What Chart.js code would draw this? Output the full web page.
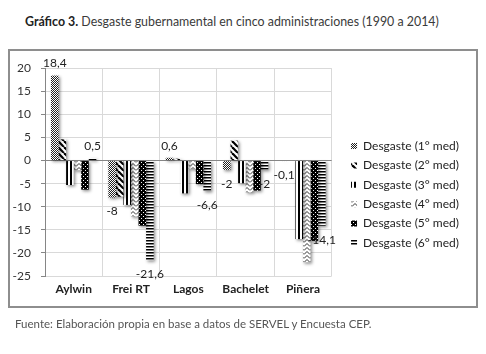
<!DOCTYPE html>
<html>
<head>
<meta charset="utf-8">
<script src="https://cdn.jsdelivr.net/npm/chart.js@4.4.1/dist/chart.umd.min.js"></script>
<style>
  html, body { margin: 0; padding: 0; background: #fff; }
  body { width: 486px; height: 354px; position: relative; overflow: hidden; font-family: Lato, "Open Sans", sans-serif; }
  #title { position: absolute; left: 25px; top: 14px; font-size: 12.4px; color: #3a3a3a; white-space: nowrap; }
  #title b { font-weight: 700; color: #222; }
  #frame { position: absolute; left: 8px; top: 49px; width: 466px; height: 255px; border: 2px solid #8e8e8e; }
  #c { position: absolute; left: 10px; top: 51px; }
  #foot { position: absolute; left: 15px; top: 317px; font-size: 11.5px; color: #555; white-space: nowrap; }
</style>
</head>
<body>
<div id="title"><b>Gráfico 3.</b> Desgaste gubernamental en cinco administraciones (1990 a 2014)</div>
<div id="frame"></div>
<canvas id="c" width="465" height="270"></canvas>
<div id="foot">Fuente: Elaboración propia en base a datos de SERVEL y Encuesta CEP.</div>
<script>
const categories = ['Aylwin', 'Frei RT', 'Lagos', 'Bachelet', 'Piñera'];
const seriesNames = ['Desgaste (1° med)', 'Desgaste (2° med)', 'Desgaste (3° med)', 'Desgaste (4° med)', 'Desgaste (5° med)', 'Desgaste (6° med)'];
const med1 = [18.4, -8, 0.6, -2, -0.1];
const med2 = [4.6, -7.8, 0.4, 4.3, 0];
const med3 = [-5.3, -9.6, -7.1, -4.9, -17];
const med4 = [-2.1, -12.1, -1.8, -6.9, -22];
const med5 = [-6.3, -14.1, -5.1, -6.5, -17.4];
const med6 = [0.5, -21.6, -6.6, -2, -14.1];
const yTicks = [20, 15, 10, 5, 0, -5, -10, -15, -20, -25];
const labeledSeries = [0, 5];

const CANVAS_H = 270;
const PLOT_BOTTOM = 225;

function tile(w, h, draw) {
  const cv = document.createElement('canvas');
  cv.width = w; cv.height = h;
  const g = cv.getContext('2d');
  draw(g, w, h);
  return document.getElementById('c').getContext('2d').createPattern(cv, 'repeat');
}
const patterns = [
  tile(2, 2, (g) => { g.fillStyle = '#fff'; g.fillRect(0,0,2,2); g.fillStyle = '#222'; g.fillRect(0,0,1,1); g.fillRect(1,1,1,1); }),
  tile(6, 6, (g) => { g.fillStyle = '#fff'; g.fillRect(0,0,6,6); g.strokeStyle = '#000'; g.lineWidth = 2.2;
    for (let k = -6; k <= 12; k += 6) { g.beginPath(); g.moveTo(k, 0); g.lineTo(k + 6, 6); g.stroke(); } }),
  tile(4, 4, (g) => { g.fillStyle = '#fff'; g.fillRect(0,0,4,4); g.fillStyle = '#000'; g.fillRect(0,0,2,4); }),
  tile(6, 4, (g) => { g.fillStyle = '#fff'; g.fillRect(0,0,6,4); g.strokeStyle = '#333'; g.lineWidth = 1;
    g.beginPath(); g.moveTo(0, 3.5); g.lineTo(3, 0.5); g.lineTo(6, 3.5); g.stroke(); }),
  tile(4, 4, (g) => { g.fillStyle = '#000'; g.fillRect(0,0,4,4); g.fillStyle = '#fff'; g.fillRect(1,1,1,1); g.fillRect(3,3,1,1); }),
  tile(4, 3, (g) => { g.fillStyle = '#fff'; g.fillRect(0,0,4,3); g.fillStyle = '#000'; g.fillRect(0,0,4,1.5); })
];
const values = [med1, med2, med3, med4, med5, med6];

const shadowPlugin = {
  id: 'shadow',
  beforeDatasetsDraw(chart) {
    const ctx = chart.ctx; ctx.save();
    ctx.shadowColor = 'rgba(0,0,0,0.45)'; ctx.shadowBlur = 3; ctx.shadowOffsetX = 1.5; ctx.shadowOffsetY = 1.5;
  },
  afterDatasetsDraw(chart) { chart.ctx.restore(); }
};
const labelPlugin = {
  id: 'barLabels',
  afterDatasetsDraw(chart) {
    const ctx = chart.ctx;
    ctx.save();
    ctx.font = '12px Lato, sans-serif';
    ctx.fillStyle = '#222';
    ctx.textAlign = 'center';
    ctx.textBaseline = 'middle';
    labeledSeries.forEach((si) => {
      const meta = chart.getDatasetMeta(si);
      meta.data.forEach((bar, i) => {
        const v = chart.data.datasets[si].data[i];
        const txt = String(v).replace('.', ',');
        const y = v >= 0 ? bar.y - 12 : bar.y + 14;
        ctx.fillText(txt, bar.x, y);
      });
    });
    ctx.restore();
  }
};

function makeChart() {
  new Chart(document.getElementById('c'), {
    type: 'bar',
    data: {
      labels: categories,
      datasets: seriesNames.map((name, i) => ({
        label: name,
        data: values[i],
        backgroundColor: patterns[i],
        borderWidth: 0,
        categoryPercentage: 0.79,
        barPercentage: 1.0
      }))
    },
    options: {
      responsive: false,
      animation: false,
      layout: { padding: { top: 17, right: 6, bottom: 0, left: 0 } },
      plugins: {
        legend: {
          position: 'right',
          align: 'center',
          maxWidth: 200,
          labels: {
            boxWidth: 6, boxHeight: 6, padding: 7.4,
            color: '#222',
            font: { family: 'Lato', size: 12 }
          }
        },
        tooltip: { enabled: false }
      },
      scales: {
        x: {
          grid: { offset: true, color: '#d9d9d9', drawTicks: false },
          border: { display: false },
          ticks: { color: '#222', padding: 6, font: { family: 'Lato', size: 12, weight: 'bold' } },
          afterFit(s) { s.height = CANVAS_H - PLOT_BOTTOM; }
        },
        y: {
          min: -25, max: 20,
          afterBuildTicks(s) { s.ticks = yTicks.map(v => ({ value: v })); },
          grid: {
            color: (ctx) => ctx.tick && ctx.tick.value === 0 ? '#868686' : '#d9d9d9',
            tickColor: '#868686', tickLength: 4
          },
          border: { display: true, color: '#868686', width: 1 },
          ticks: { color: '#333', padding: 10, font: { family: 'Lato', size: 12 } },
          afterFit(s) { s.width = 35; }
        },
        gap: {
          type: 'linear', position: 'right', min: 0, max: 1,
          grid: { display: false, drawTicks: false },
          border: { display: false },
          ticks: { display: false },
          afterFit(s) { s.width = 12; }
        }
      }
    },
    plugins: [shadowPlugin, labelPlugin]
  });
}
Promise.all([
  document.fonts.load('12px Lato'),
  document.fonts.load('bold 12px Lato')
]).then(makeChart, makeChart);
</script>
</body>
</html>
